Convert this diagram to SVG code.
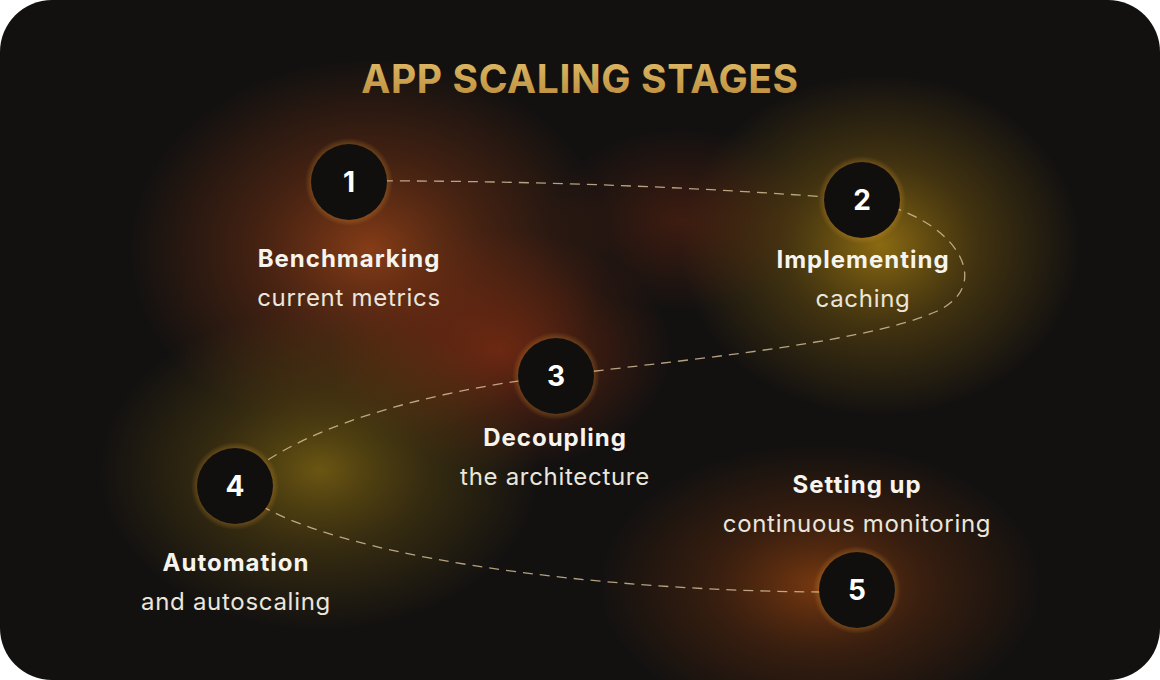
<svg xmlns="http://www.w3.org/2000/svg" width="1160" height="680" viewBox="0 0 1160 680">
<defs>
<style>
.num{font-family:Inter,"Liberation Sans",sans-serif;font-weight:700;font-size:28px;fill:#ffffff;text-anchor:middle}
.ttl{font-family:Inter,"Liberation Sans",sans-serif;font-weight:700;font-size:24px;letter-spacing:1px;fill:#f7f4ee;text-anchor:middle}
.sub{font-family:Inter,"Liberation Sans",sans-serif;font-weight:400;font-size:24px;letter-spacing:0.7px;fill:#ebe6dc;text-anchor:middle}
.dot{fill:#100f0e}
.conn{fill:none;stroke:#dcc69e;stroke-opacity:.8;stroke-width:1.3;stroke-dasharray:10 7}
</style>
<clipPath id="card"><rect x="0" y="0" width="1160" height="680" rx="52"/></clipPath>
<linearGradient id="gold" x1="0" y1="0" x2="0" y2="1">
<stop offset="0" stop-color="#e2bf6a"/><stop offset="1" stop-color="#b8893a"/>
</linearGradient>
<radialGradient id="gOrange"><stop offset="0" stop-color="#9a4418" stop-opacity=".85"/><stop offset=".5" stop-color="#7a3414" stop-opacity=".45"/><stop offset="1" stop-color="#7a3414" stop-opacity="0"/></radialGradient>
<radialGradient id="gGold"><stop offset="0" stop-color="#a07a12" stop-opacity=".85"/><stop offset=".5" stop-color="#7d5e10" stop-opacity=".42"/><stop offset="1" stop-color="#7d5e10" stop-opacity="0"/></radialGradient>
<radialGradient id="gRed"><stop offset="0" stop-color="#7c2c12" stop-opacity=".8"/><stop offset="1" stop-color="#7c2c12" stop-opacity="0"/></radialGradient>
<radialGradient id="gOlive"><stop offset="0" stop-color="#7a6212" stop-opacity=".85"/><stop offset=".5" stop-color="#5e4a10" stop-opacity=".45"/><stop offset="1" stop-color="#5e4a10" stop-opacity="0"/></radialGradient>
<radialGradient id="gEmber"><stop offset="0" stop-color="#8a4010" stop-opacity=".85"/><stop offset=".5" stop-color="#6a300e" stop-opacity=".4"/><stop offset="1" stop-color="#6a300e" stop-opacity="0"/></radialGradient>
<radialGradient id="halo"><stop offset=".8" stop-color="#f0a030" stop-opacity=".35"/><stop offset="1" stop-color="#f0a030" stop-opacity="0"/></radialGradient>
</defs>
<rect width="1160" height="680" fill="#ffffff"/>
<g id="background" clip-path="url(#card)">
<rect width="1160" height="680" fill="#131110"/>
<ellipse cx="370" cy="250" rx="240" ry="190" fill="url(#gOrange)"/>
<ellipse cx="880" cy="245" rx="200" ry="170" fill="url(#gGold)"/>
<ellipse cx="500" cy="350" rx="170" ry="120" fill="url(#gRed)"/>
<ellipse cx="320" cy="470" rx="220" ry="160" fill="url(#gOlive)"/>
<ellipse cx="820" cy="585" rx="220" ry="140" fill="url(#gEmber)"/>
<ellipse cx="680" cy="220" rx="130" ry="90" fill="url(#gRed)" opacity=".5"/>
</g>
<text x="580" y="93" font-family="Inter,'Liberation Sans',sans-serif" font-weight="700" font-size="39" letter-spacing="0.6" fill="url(#gold)" text-anchor="middle">APP SCALING STAGES</text>
<g id="connectors">
<path class="conn" d="M349,181 C500,180 700,186 862,200 C955,215 998,285 935,312 C860,345 660,362 556,376 C420,392 290,430 235,486 C300,555 600,594 857,592"/>
</g>
<g id="node1">
<circle cx="349" cy="182" r="44" fill="url(#halo)"/>
<circle class="dot" cx="349" cy="182" r="38"/>
<text class="num" x="349" y="192">1</text>
<text class="ttl" x="349" y="267">Benchmarking</text>
<text class="sub" x="349" y="306">current metrics</text>
</g>
<g id="node2">
<circle cx="862" cy="200" r="44" fill="url(#halo)"/>
<circle class="dot" cx="862" cy="200" r="38"/>
<text class="num" x="862" y="210">2</text>
<text class="ttl" x="863" y="268">Implementing</text>
<text class="sub" x="863" y="307">caching</text>
</g>
<g id="node3">
<circle cx="556" cy="376" r="44" fill="url(#halo)"/>
<circle class="dot" cx="556" cy="376" r="38"/>
<text class="num" x="556" y="386">3</text>
<text class="ttl" x="555" y="446">Decoupling</text>
<text class="sub" x="555" y="485">the architecture</text>
</g>
<g id="node4">
<circle cx="235" cy="486" r="44" fill="url(#halo)"/>
<circle class="dot" cx="235" cy="486" r="38"/>
<text class="num" x="235" y="496">4</text>
<text class="ttl" x="236" y="571">Automation</text>
<text class="sub" x="236" y="610">and autoscaling</text>
</g>
<g id="node5">
<circle cx="857" cy="590" r="44" fill="url(#halo)"/>
<circle class="dot" cx="857" cy="590" r="38"/>
<text class="num" x="857" y="600">5</text>
<text class="ttl" x="857" y="493">Setting up</text>
<text class="sub" x="857" y="532">continuous monitoring</text>
</g>
</svg>
